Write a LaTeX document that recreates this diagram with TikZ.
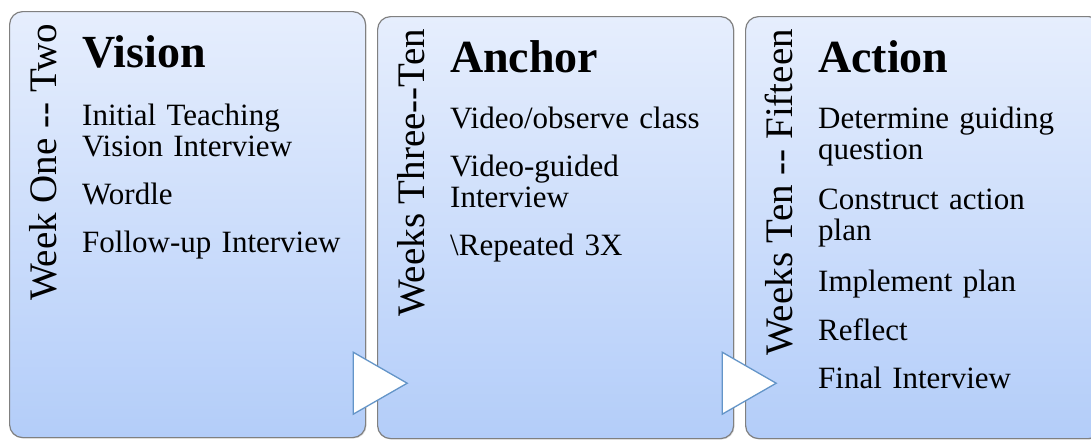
\documentclass[tikz,border=0pt]{standalone}
\usepackage{fontspec}
\setmainfont{Liberation Serif}
\usetikzlibrary{positioning, calc, shadows}
\definecolor{boxtop}{HTML}{E6EEFD}
\definecolor{boxbottom}{HTML}{B3CDF9}
\definecolor{boxline}{HTML}{808080}
\definecolor{arrowline}{HTML}{6495C8}

\tikzset{
  phasebox/.style={draw=boxline, line width=1.2pt, rounded corners=13pt, top color=boxtop, bottom color=boxbottom,
    minimum width=356pt, anchor=north west, inner sep=0pt,
    drop shadow={opacity=0.25, shadow xshift=1pt, shadow yshift=-1pt}},
  weeklabel/.style={rotate=90, anchor=base east, inner sep=0pt, font=\fontsize{39}{39}\selectfont},
  phasetitle/.style={anchor=base west, inner sep=0pt, font=\fontsize{46}{46}\selectfont\bfseries},
  steplist/.style={anchor=base west, align=left, inner sep=0pt, text width=285pt, font=\fontsize{31}{31}\selectfont},
  nextarrow/.style={draw=arrowline, fill=white, line width=1.3pt, line join=miter}
}

\begin{document}
\begin{tikzpicture}[x=1pt, y=-1pt]
  \useasboundingbox (0,0) rectangle (1091,440);

  % the three phases
  \node[phasebox, minimum height=426pt] (vision) at (9,11) {};
  \node[phasebox, minimum height=422pt] (anchor) at (377,16) {};
  \node[phasebox, minimum height=422pt] (action) at (745,16) {};

  \foreach \phase/\weeks in {vision/{Week One -{}- Two}, anchor/{Weeks Three-{}-Ten}, action/{Weeks Ten -{}- Fifteen}}
    \node[weeklabel] (\phase weeks) at ($(\phase.north west)+(47,13)$) {\weeks};

  \node[phasetitle] (visiontitle) at ($(vision.north west)+(73,56)$) {Vision};
  \node[phasetitle] (anchortitle) at ($(anchor.north west)+(73,56)$) {Anchor};
  \node[phasetitle] (actiontitle) at ($(action.north west)+(73,56)$) {Action};

  \node[steplist] (visionsteps) at ($(vision.north west)+(73,114)$) {Initial Teaching\\Vision Interview\\[17pt]Wordle\\[17pt]Follow-up Interview};
  \node[steplist] (anchorsteps) at ($(anchor.north west)+(73,112)$) {Video/observe class\\[17pt]Video-guided\\Interview\\[17pt]\textbackslash Repeated 3X};
  \node[steplist] (actionsteps) at ($(action.north west)+(73,112)$) {Determine guiding\\question\\[19pt]Construct action\\plan\\[20pt]Implement plan\\[18pt]Reflect\\[17pt]Final Interview};

  % arrows between phases
  \coordinate (next1) at ($(vision.south east)+(-13,-55)$);
  \coordinate (next2) at ($(anchor.south east)+(-12,-56)$);
  \foreach \t in {next1, next2}
    \draw[nextarrow] ($(\t)+(0,-31)$) -- ($(\t)+(54,0)$) -- ($(\t)+(0,31)$) -- cycle;
\end{tikzpicture}
\end{document}
